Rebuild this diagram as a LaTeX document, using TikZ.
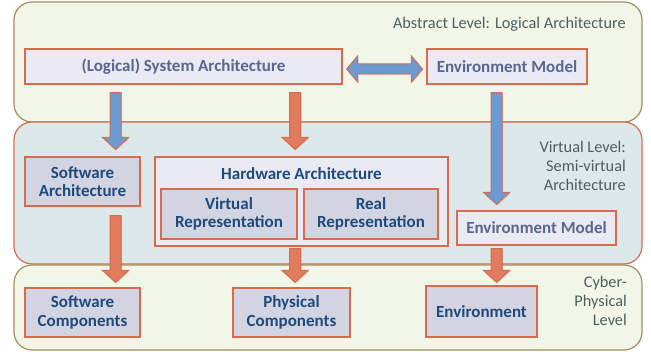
\documentclass[tikz,border=0pt]{standalone}
\usepackage{fontspec}
\setmainfont{Carlito}
\usetikzlibrary{shadows,calc}

\definecolor{panelGreen}{HTML}{F1F6E9}
\definecolor{panelGreenLine}{HTML}{A08E60}
\definecolor{panelBlue}{HTML}{DCE8E9}
\definecolor{accentLine}{HTML}{D76B4E}
\definecolor{boxLight}{HTML}{EAEAF2}
\definecolor{boxGray}{HTML}{D2D5E1}
\definecolor{navyText}{HTML}{1F4A7C}
\definecolor{slateText}{HTML}{5A6690}
\definecolor{levelText}{HTML}{4E5E5E}
\definecolor{arrowOrange}{HTML}{E07B5E}
\definecolor{arrowBlue}{HTML}{6A9BD2}

\tikzset{
  panel/.style={rectangle, rounded corners=18pt, line width=1.2pt, inner sep=0pt},
  greenpanel/.style={panel, draw=panelGreenLine, fill=panelGreen},
  bluepanel/.style={panel, draw=accentLine, fill=panelBlue},
  boxfont/.style={font=\fontsize{17}{18.5}\selectfont\bfseries},
  box/.style={rectangle, draw=accentLine, line width=1.2pt, inner sep=2pt,
    align=center, boxfont,
    drop shadow={shadow xshift=1.3pt, shadow yshift=-1.3pt, opacity=.35}},
  lightbox/.style={box, fill=boxLight, text=slateText},
  graybox/.style={box, fill=boxGray, text=navyText},
  levellabel/.style={align=right, text=levelText, inner sep=0pt,
    font=\fontsize{16.3}{19}\selectfont},
  blockarrow/.style={draw=accentLine, line width=1pt, line join=miter,
    drop shadow={shadow xshift=1pt, shadow yshift=-1pt, opacity=.3}},
}

% vertical block arrow: fill, x position, source node, target node,
% gap below source, gap above target
\newcommand\downblock[6]{%
  \path[blockarrow, fill=#1] let \p1=(#3.south), \p2=(#4.north) in
    (#2pt-5.5pt, \y1-#5pt) -- (#2pt+5.5pt, \y1-#5pt)
    -- (#2pt+5.5pt, \y2+#6pt+12pt) -- (#2pt+13pt, \y2+#6pt+12pt)
    -- (#2pt, \y2+#6pt) -- (#2pt-13pt, \y2+#6pt+12pt)
    -- (#2pt-5.5pt, \y2+#6pt+12pt) -- cycle;}

\begin{document}
\begin{tikzpicture}[x=1pt, y=-1pt]
\useasboundingbox (0,0) rectangle (651,352);

% level panels
\node[greenpanel, minimum width=628pt, minimum height=120pt] (abstract) at (328,62) {};
\node[bluepanel, minimum width=628pt, minimum height=142pt] (virtual) at (328,193) {};
\node[greenpanel, minimum width=628pt, minimum height=85pt] (cyber) at (328,307.5) {};

% level captions
\node[levellabel, anchor=east] (abstractlbl) at (626,24) {Abstract Level: Logical Architecture};
\node[levellabel, anchor=east] (virtuallbl) at (626,166) {Virtual Level:\\Semi-virtual\\Architecture};
\node[levellabel, anchor=east] (cyberlbl) at (627,301) {Cyber-\\Physical\\Level};

% abstract level
\node[lightbox, minimum width=317pt, minimum height=35pt] (sysarch) at (183.5,66.5) {(Logical) System Architecture};
\node[lightbox, minimum width=160pt, minimum height=35pt] (envabs) at (507,66.5) {Environment Model};

% virtual level
\node[graybox, minimum width=115pt, minimum height=49pt] (swarch) at (82.5,181.5) {Software\\Architecture};
\node[lightbox, minimum width=293pt, minimum height=89pt] (hwarch) at (301.5,201.5) {};
\node[text=navyText, boxfont] (hwtitle) at (301.5,174) {Hardware Architecture};
\node[graybox, minimum width=136pt, minimum height=50pt] (virtrep) at (229,214) {Virtual\\Representation};
\node[graybox, minimum width=134pt, minimum height=50pt] (realrep) at (371,214) {Real\\Representation};
\node[lightbox, minimum width=159pt, minimum height=34pt] (envvirt) at (536.5,228) {Environment Model};

% cyber-physical level
\node[graybox, minimum width=115pt, minimum height=49pt] (swcomp) at (82.5,312.5) {Software\\Components};
\node[graybox, minimum width=117pt, minimum height=49pt] (physcomp) at (291.5,312.5) {Physical\\Components};
\node[graybox, minimum width=111pt, minimum height=51pt] (env) at (481.5,311.5) {Environment};

% horizontal double arrow between system architecture and environment model
\path[blockarrow, fill=arrowBlue] let \p1=(sysarch.east), \p2=(envabs.west) in
  (\x1+4pt, -69pt) -- (\x1+15pt, -56pt) -- (\x1+15pt, -64pt)
  -- (\x2-15pt, -64pt) -- (\x2-15pt, -56pt) -- (\x2-4pt, -69pt)
  -- (\x2-15pt, -82pt) -- (\x2-15pt, -74pt) -- (\x1+15pt, -74pt)
  -- (\x1+15pt, -82pt) -- cycle;

% refinement arrows
\downblock{arrowBlue}{115.5}{sysarch}{swarch}{8}{7}
\downblock{arrowOrange}{295}{sysarch}{hwarch}{8}{7}
\downblock{arrowBlue}{496.5}{envabs}{envvirt}{8}{6}
\downblock{arrowOrange}{115.5}{swarch}{swcomp}{9}{5}
\downblock{arrowOrange}{295}{hwarch}{physcomp}{2}{5}
\downblock{arrowOrange}{496.5}{envvirt}{env}{3}{3}
\end{tikzpicture}
\end{document}
